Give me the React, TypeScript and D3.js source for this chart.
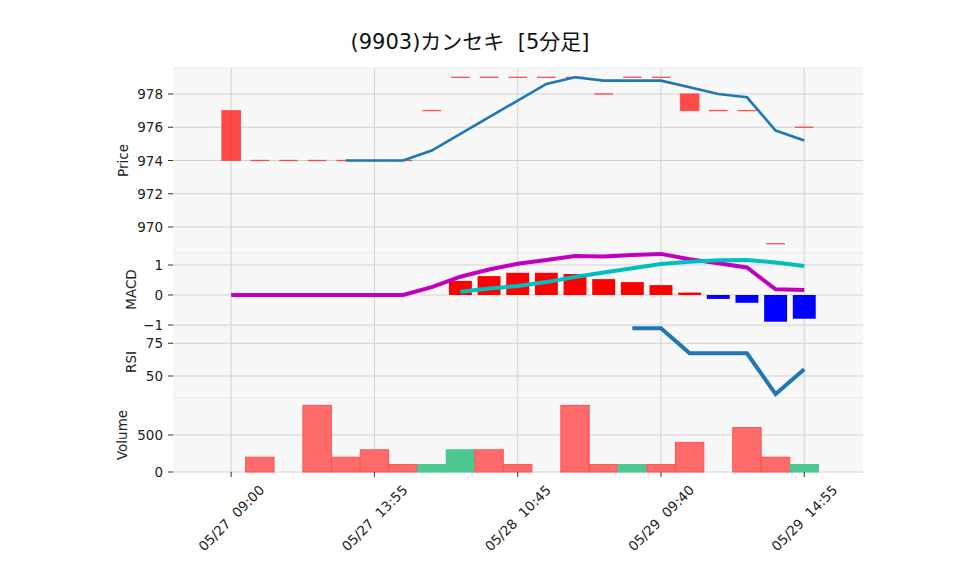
import React from 'react';
import * as d3 from 'd3';

const title = '(9903)カンセキ\u00a0\u00a0[5分足]';
const xTickIdx = [0, 5, 10, 15, 20];
const xTickLabels = ['05/27 09:00', '05/27 13:55', '05/28 10:45', '05/29 09:40', '05/29 14:55'];

const opens = [977, 974, 974, 974, 974, 974, 974, 977, 979, 979, 979, 979, 979, 978, 979, 979, 978, 977, 977, 969, 976];
const closes = [974, 974, 974, 974, 974, 974, 974, 977, 979, 979, 979, 979, 979, 978, 979, 979, 977, 977, 977, 969, 976];
const ma5: (number | null)[] = [null, null, null, null, 974, 974, 974, 974.6, 975.6, 976.6, 977.6, 978.6, 979, 978.8, 978.8, 978.8, 978.4, 978, 977.8, 975.8, 975.2];

const macd = [0, 0, 0, 0, 0, 0, 0, 0.26, 0.61, 0.85, 1.04, 1.17, 1.3, 1.28, 1.33, 1.37, 1.19, 1.06, 0.92, 0.19, 0.17];
const signal: (number | null)[] = [null, null, null, null, null, null, null, null, 0.11, 0.22, 0.3, 0.43, 0.6, 0.75, 0.89, 1.03, 1.11, 1.16, 1.17, 1.08, 0.97];
const hist: (number | null)[] = [null, null, null, null, null, null, null, null, 0.47, 0.63, 0.74, 0.74, 0.7, 0.53, 0.43, 0.33, 0.08, -0.13, -0.26, -0.89, -0.79];

const rsi: (number | null)[] = [null, null, null, null, null, null, null, null, null, null, null, null, null, null, 86.5, 86.5, 67.4, 67.4, 67.4, 36.2, 55.1];

const volume = [0, 200, 0, 900, 200, 300, 100, 100, 300, 300, 100, 0, 900, 100, 100, 100, 400, 0, 600, 200, 100];
const volUp = [false, false, false, false, false, false, false, true, true, false, false, false, false, false, true, false, false, false, false, false, true];

const priceTicks = [970, 972, 974, 976, 978];
const macdTicks = [-1, 0, 1];
const rsiTicks = [50, 75];
const volTicks = [0, 500];

const FONT = '"DejaVu Sans", "Noto Sans CJK JP", sans-serif';

export default function App() {
  const W = 958, H = 575;
  const L = 173, R = 863;
  const x = d3.scaleLinear().domain([-2.03, 22.05]).range([L, R]);
  const step = x(1) - x(0);

  const panels = [
    { name: 'Price', top: 68, bottom: 253, labelX: 123 },
    { name: 'MACD', top: 253, bottom: 326, labelX: 131 },
    { name: 'RSI', top: 326, bottom: 398, labelX: 131 },
    { name: 'Volume', top: 398, bottom: 472, labelX: 122 },
  ];
  const yP = d3.scaleLinear().domain([968.44, 979.56]).range([253, 68]);
  const yM = d3.scaleLinear().domain([-1.033, 1.4]).range([326, 253]);
  const yR = d3.scaleLinear().domain([33.2, 88.2]).range([398, 326]);
  const yV = d3.scaleLinear().domain([0, 1000]).range([472, 398]);

  const idx = d3.range(opens.length);
  const lineOf = (vals: (number | null)[], y: d3.ScaleLinear<number, number>) =>
    d3.line<number>()
      .defined((i) => vals[i] != null)
      .x((i) => x(i))
      .y((i) => y(vals[i] as number))(idx) || '';

  const gridColor = '#d2d2d2';
  const tickColor = '#333';
  const yAxes: { ticks: number[]; scale: d3.ScaleLinear<number, number>; fmt: (v: number) => string }[] = [
    { ticks: priceTicks, scale: yP, fmt: (v) => String(v) },
    { ticks: macdTicks, scale: yM, fmt: (v) => (v < 0 ? '\u2212' + Math.abs(v) : String(v)) },
    { ticks: rsiTicks, scale: yR, fmt: (v) => String(v) },
    { ticks: volTicks, scale: yV, fmt: (v) => String(v) },
  ];

  const bodyW = step * 0.65;
  const volW = step * 0.99;
  const histW = step * 0.8;

  return (
    <svg width={W} height={H} style={{ position: 'absolute', left: 0, top: 0, background: '#fff' }} fontFamily={FONT}>
      <text x={470} y={49} textAnchor="middle" fontSize={21} fill="#111">{title}</text>

      {panels.map((p) => (
        <rect key={'bg' + p.name} x={L} y={p.top} width={R - L} height={p.bottom - p.top} fill="#f8f8f8" />
      ))}

      {xTickIdx.map((i) => (
        <line key={'vg' + i} x1={x(i)} x2={x(i)} y1={68} y2={472} stroke={gridColor} strokeWidth={1} />
      ))}

      {yAxes.map((a, k) => (
        <g key={'ya' + k}>
          {a.ticks.map((t) => (
            <g key={t}>
              <line x1={L} x2={R} y1={a.scale(t)} y2={a.scale(t)} stroke={gridColor} strokeWidth={1} />
              <line x1={L - 5} x2={L} y1={a.scale(t)} y2={a.scale(t)} stroke={tickColor} strokeWidth={1} />
              <text x={L - 10} y={a.scale(t)} textAnchor="end" dominantBaseline="central" fontSize={13.5} fill="#222">{a.fmt(t)}</text>
            </g>
          ))}
        </g>
      ))}

      {panels.map((p) => (
        <line key={'sep' + p.name} x1={L} x2={R} y1={p.top} y2={p.top} stroke="#e8e8e8" strokeWidth={1} />
      ))}

      {panels.map((p) => (
        <text key={'yl' + p.name} transform={`translate(${p.labelX},${(p.top + p.bottom) / 2}) rotate(-90)`} textAnchor="middle" dominantBaseline="central" fontSize={13.5} fill="#222">{p.name}</text>
      ))}

      {idx.map((i) => {
        const o = opens[i], c = closes[i];
        if (o === c) {
          return <line key={'c' + i} x1={x(i) - bodyW / 2} x2={x(i) + bodyW / 2} y1={yP(o)} y2={yP(o)} stroke="#ff3030" strokeOpacity={0.85} strokeWidth={1.3} />;
        }
        const y1 = yP(Math.max(o, c)), y2 = yP(Math.min(o, c));
        return <rect key={'c' + i} x={x(i) - bodyW / 2} y={y1} width={bodyW} height={y2 - y1} fill="#ff2a2a" fillOpacity={0.85} stroke="#ff5050" strokeWidth={1} />;
      })}
      <path d={lineOf(ma5, yP)} fill="none" stroke="#1f77b4" strokeWidth={2.6} />

      {idx.filter((i) => hist[i] != null).map((i) => {
        const v = hist[i] as number;
        const y1 = yM(Math.max(v, 0)), y2 = yM(Math.min(v, 0));
        return <rect key={'h' + i} x={x(i) - histW / 2} y={y1} width={histW} height={Math.max(y2 - y1, 1)} fill={v >= 0 ? '#ff0000' : '#0000ff'} />;
      })}
      <path d={lineOf(macd, yM)} fill="none" stroke="#bf00bf" strokeWidth={4} />
      <path d={lineOf(signal, yM)} fill="none" stroke="#00bfbf" strokeWidth={4} />

      <path d={lineOf(rsi, yR)} fill="none" stroke="#1f77b4" strokeWidth={4} />

      {idx.filter((i) => volume[i] > 0).map((i) => (
        <rect key={'v' + i} x={x(i) - volW / 2} y={yV(volume[i])} width={volW} height={yV(0) - yV(volume[i])}
          fill={volUp[i] ? '#4cc790' : '#ff6b6b'} stroke={volUp[i] ? '#4cc790' : '#ff5050'} strokeWidth={1} />
      ))}

      {xTickIdx.map((i, k) => (
        <g key={'xt' + i}>
          <line x1={x(i)} x2={x(i)} y1={472} y2={477} stroke={tickColor} strokeWidth={1} />
          <text transform={`translate(${x(i)},${518}) rotate(-45)`} textAnchor="middle" dominantBaseline="central" fontSize={13.5} fill="#222">{xTickLabels[k].replace(' ', '\u00a0\u00a0')}</text>
        </g>
      ))}
    </svg>
  );
}
